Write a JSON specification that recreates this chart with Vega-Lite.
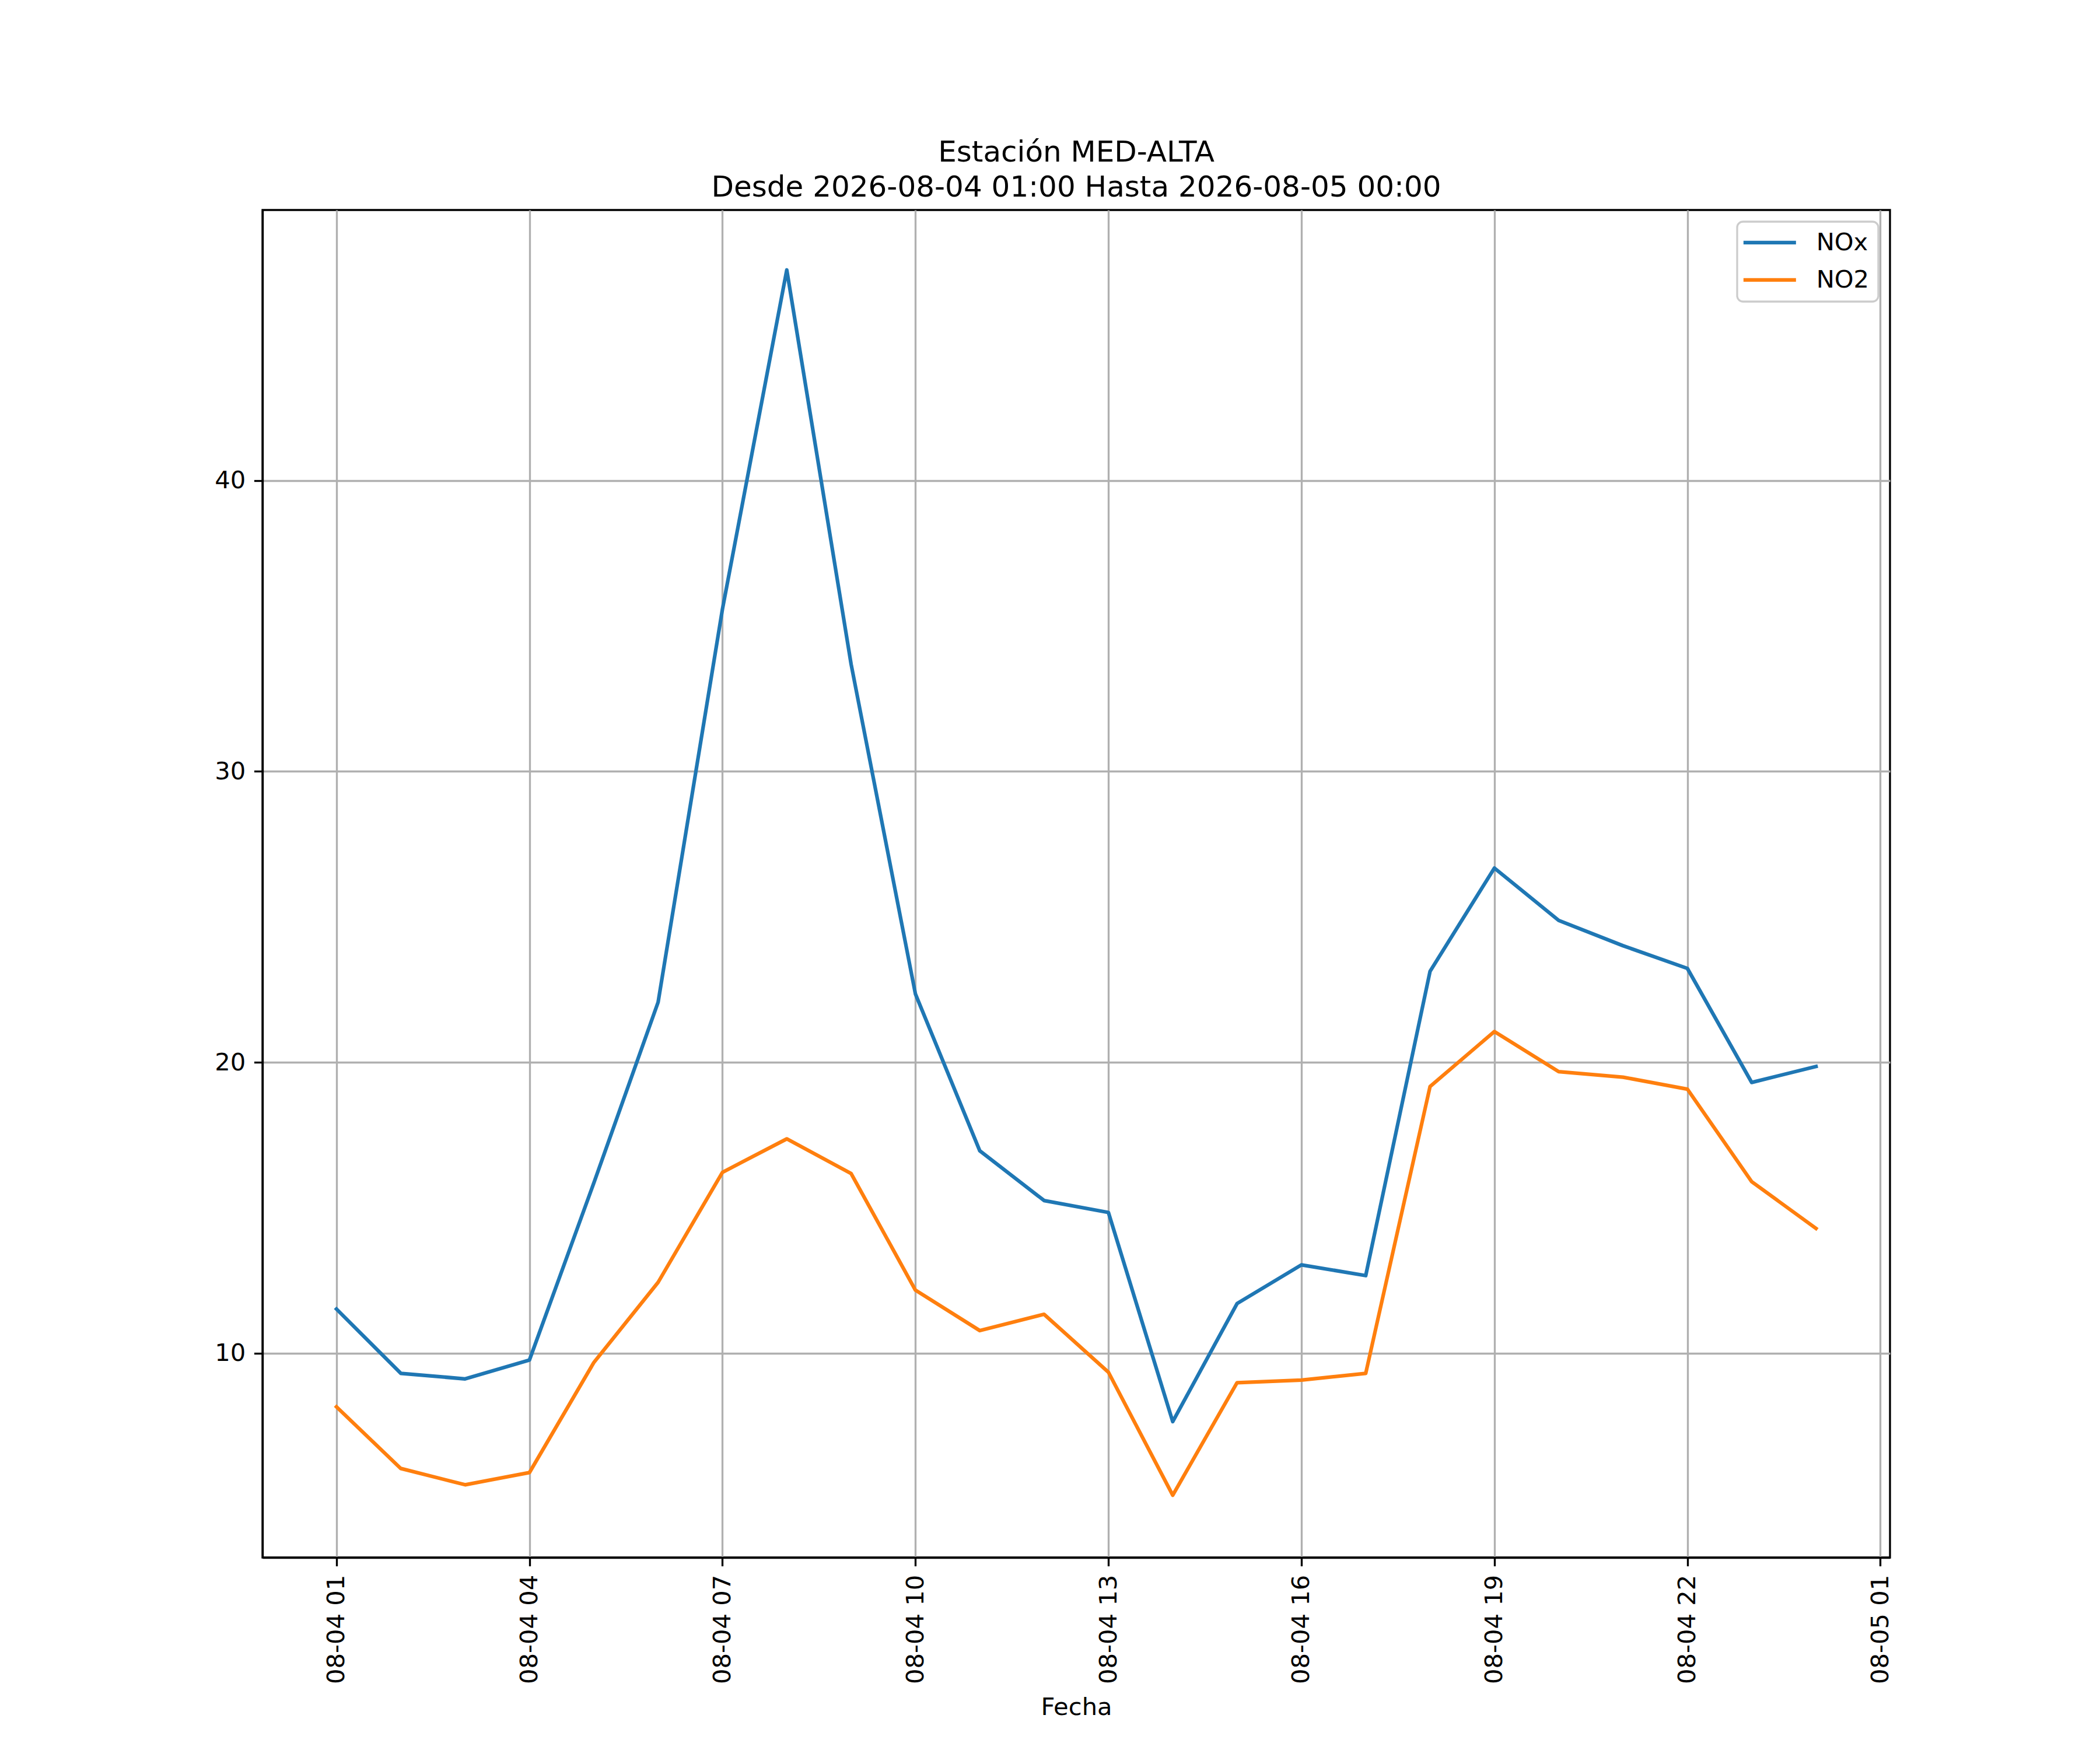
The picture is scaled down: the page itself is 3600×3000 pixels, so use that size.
{
  "$schema": "https://vega.github.io/schema/vega-lite/v6.json",
  "width": 2790,
  "height": 2310,
  "autosize": {"type": "none"},
  "padding": {"left": 450, "top": 360, "right": 360, "bottom": 330},
  "background": "white",
  "title": {
    "text": ["Estación MED-ALTA", "Desde 2026-08-04 01:00 Hasta 2026-08-05 00:00"],
    "fontSize": 50,
    "font": "DejaVu Sans",
    "fontWeight": "normal",
    "color": "black",
    "anchor": "middle",
    "frame": "group",
    "offset": 13,
    "lineHeight": 60
  },
  "data": {
    "values": [
      {"t": "2026-08-04T01:00:00", "serie": "NOx", "v": 11.52},
      {"t": "2026-08-04T02:00:00", "serie": "NOx", "v": 9.31},
      {"t": "2026-08-04T03:00:00", "serie": "NOx", "v": 9.12},
      {"t": "2026-08-04T04:00:00", "serie": "NOx", "v": 9.77},
      {"t": "2026-08-04T05:00:00", "serie": "NOx", "v": 15.85},
      {"t": "2026-08-04T06:00:00", "serie": "NOx", "v": 22.07},
      {"t": "2026-08-04T07:00:00", "serie": "NOx", "v": 35.58},
      {"t": "2026-08-04T08:00:00", "serie": "NOx", "v": 47.24},
      {"t": "2026-08-04T09:00:00", "serie": "NOx", "v": 33.69},
      {"t": "2026-08-04T10:00:00", "serie": "NOx", "v": 22.35},
      {"t": "2026-08-04T11:00:00", "serie": "NOx", "v": 16.96},
      {"t": "2026-08-04T12:00:00", "serie": "NOx", "v": 15.25},
      {"t": "2026-08-04T13:00:00", "serie": "NOx", "v": 14.84},
      {"t": "2026-08-04T14:00:00", "serie": "NOx", "v": 7.65},
      {"t": "2026-08-04T15:00:00", "serie": "NOx", "v": 11.71},
      {"t": "2026-08-04T16:00:00", "serie": "NOx", "v": 13.04},
      {"t": "2026-08-04T17:00:00", "serie": "NOx", "v": 12.67},
      {"t": "2026-08-04T18:00:00", "serie": "NOx", "v": 23.13},
      {"t": "2026-08-04T19:00:00", "serie": "NOx", "v": 26.68},
      {"t": "2026-08-04T20:00:00", "serie": "NOx", "v": 24.88},
      {"t": "2026-08-04T21:00:00", "serie": "NOx", "v": 24.01},
      {"t": "2026-08-04T22:00:00", "serie": "NOx", "v": 23.23},
      {"t": "2026-08-04T23:00:00", "serie": "NOx", "v": 19.31},
      {"t": "2026-08-05T00:00:00", "serie": "NOx", "v": 19.86},
      {"t": "2026-08-04T01:00:00", "serie": "NO2", "v": 8.16},
      {"t": "2026-08-04T02:00:00", "serie": "NO2", "v": 6.04},
      {"t": "2026-08-04T03:00:00", "serie": "NO2", "v": 5.48},
      {"t": "2026-08-04T04:00:00", "serie": "NO2", "v": 5.9},
      {"t": "2026-08-04T05:00:00", "serie": "NO2", "v": 9.68},
      {"t": "2026-08-04T06:00:00", "serie": "NO2", "v": 12.44},
      {"t": "2026-08-04T07:00:00", "serie": "NO2", "v": 16.22},
      {"t": "2026-08-04T08:00:00", "serie": "NO2", "v": 17.37},
      {"t": "2026-08-04T09:00:00", "serie": "NO2", "v": 16.18},
      {"t": "2026-08-04T10:00:00", "serie": "NO2", "v": 12.17},
      {"t": "2026-08-04T11:00:00", "serie": "NO2", "v": 10.78},
      {"t": "2026-08-04T12:00:00", "serie": "NO2", "v": 11.34},
      {"t": "2026-08-04T13:00:00", "serie": "NO2", "v": 9.35},
      {"t": "2026-08-04T14:00:00", "serie": "NO2", "v": 5.12},
      {"t": "2026-08-04T15:00:00", "serie": "NO2", "v": 8.99},
      {"t": "2026-08-04T16:00:00", "serie": "NO2", "v": 9.08},
      {"t": "2026-08-04T17:00:00", "serie": "NO2", "v": 9.31},
      {"t": "2026-08-04T18:00:00", "serie": "NO2", "v": 19.17},
      {"t": "2026-08-04T19:00:00", "serie": "NO2", "v": 21.06},
      {"t": "2026-08-04T20:00:00", "serie": "NO2", "v": 19.68},
      {"t": "2026-08-04T21:00:00", "serie": "NO2", "v": 19.49},
      {"t": "2026-08-04T22:00:00", "serie": "NO2", "v": 19.08},
      {"t": "2026-08-04T23:00:00", "serie": "NO2", "v": 15.9},
      {"t": "2026-08-05T00:00:00", "serie": "NO2", "v": 14.29}
    ]
  },
  "mark": {"type": "line", "strokeWidth": 6.25, "strokeJoin": "round", "strokeCap": "square"},
  "encoding": {
    "x": {
      "field": "t",
      "type": "temporal",
      "scale": {
        "domain": [
          {"year": 2026, "month": 8, "date": 3, "hours": 23, "minutes": 51},
          {"year": 2026, "month": 8, "date": 5, "hours": 1, "minutes": 9}
        ],
        "nice": false
      },
      "axis": {
        "values": [
          {"year": 2026, "month": 8, "date": 4, "hours": 1},
          {"year": 2026, "month": 8, "date": 4, "hours": 4},
          {"year": 2026, "month": 8, "date": 4, "hours": 7},
          {"year": 2026, "month": 8, "date": 4, "hours": 10},
          {"year": 2026, "month": 8, "date": 4, "hours": 13},
          {"year": 2026, "month": 8, "date": 4, "hours": 16},
          {"year": 2026, "month": 8, "date": 4, "hours": 19},
          {"year": 2026, "month": 8, "date": 4, "hours": 22},
          {"year": 2026, "month": 8, "date": 5, "hours": 1}
        ],
        "format": "%m-%d %H",
        "labelAngle": 270,
        "labelFontSize": 41.67,
        "labelFont": "DejaVu Sans",
        "labelColor": "black",
        "labelPadding": 14.6,
        "labelLimit": 500,
        "labelOverlap": false,
        "labelFlush": false,
        "tickColor": "black",
        "tickSize": 14.6,
        "tickWidth": 3.33,
        "domainColor": "black",
        "domainWidth": 3.33,
        "grid": true,
        "gridColor": "#b0b0b0",
        "gridWidth": 3.33,
        "gridOpacity": 1,
        "title": "Fecha",
        "titleFont": "DejaVu Sans",
        "titleFontSize": 41.67,
        "titleFontWeight": "normal",
        "titleColor": "black",
        "titlePadding": 36
      }
    },
    "y": {
      "field": "v",
      "type": "quantitative",
      "scale": {"domain": [2.98, 49.3], "nice": false, "zero": false},
      "axis": {
        "values": [10, 20, 30, 40],
        "labelFontSize": 41.67,
        "labelFont": "DejaVu Sans",
        "labelColor": "black",
        "labelPadding": 14.6,
        "tickColor": "black",
        "tickSize": 14.6,
        "tickWidth": 3.33,
        "domainColor": "black",
        "domainWidth": 3.33,
        "grid": true,
        "gridColor": "#b0b0b0",
        "gridWidth": 3.33,
        "gridOpacity": 1,
        "title": null
      }
    },
    "color": {
      "field": "serie",
      "type": "nominal",
      "sort": ["NOx", "NO2"],
      "scale": {"domain": ["NOx", "NO2"], "range": ["#1f77b4", "#ff7f0e"]},
      "legend": {
        "title": null,
        "orient": "top-right",
        "offset": 20,
        "symbolType": "M-3,0H3",
        "symbolSize": 900,
        "symbolStrokeWidth": 6.25,
        "symbolOffset": 20,
        "labelFontSize": 41.67,
        "labelFont": "DejaVu Sans",
        "labelColor": "black",
        "labelOffset": 59,
        "rowPadding": 21,
        "padding": 15,
        "strokeColor": "#cccccc",
        "fillColor": "white",
        "cornerRadius": 10,
        "encode": {"legend": {"update": {"strokeWidth": {"value": 3.33}}}}
      }
    }
  },
  "config": {
    "font": "DejaVu Sans",
    "view": {"stroke": "black", "strokeWidth": 3.33}
  }
}
